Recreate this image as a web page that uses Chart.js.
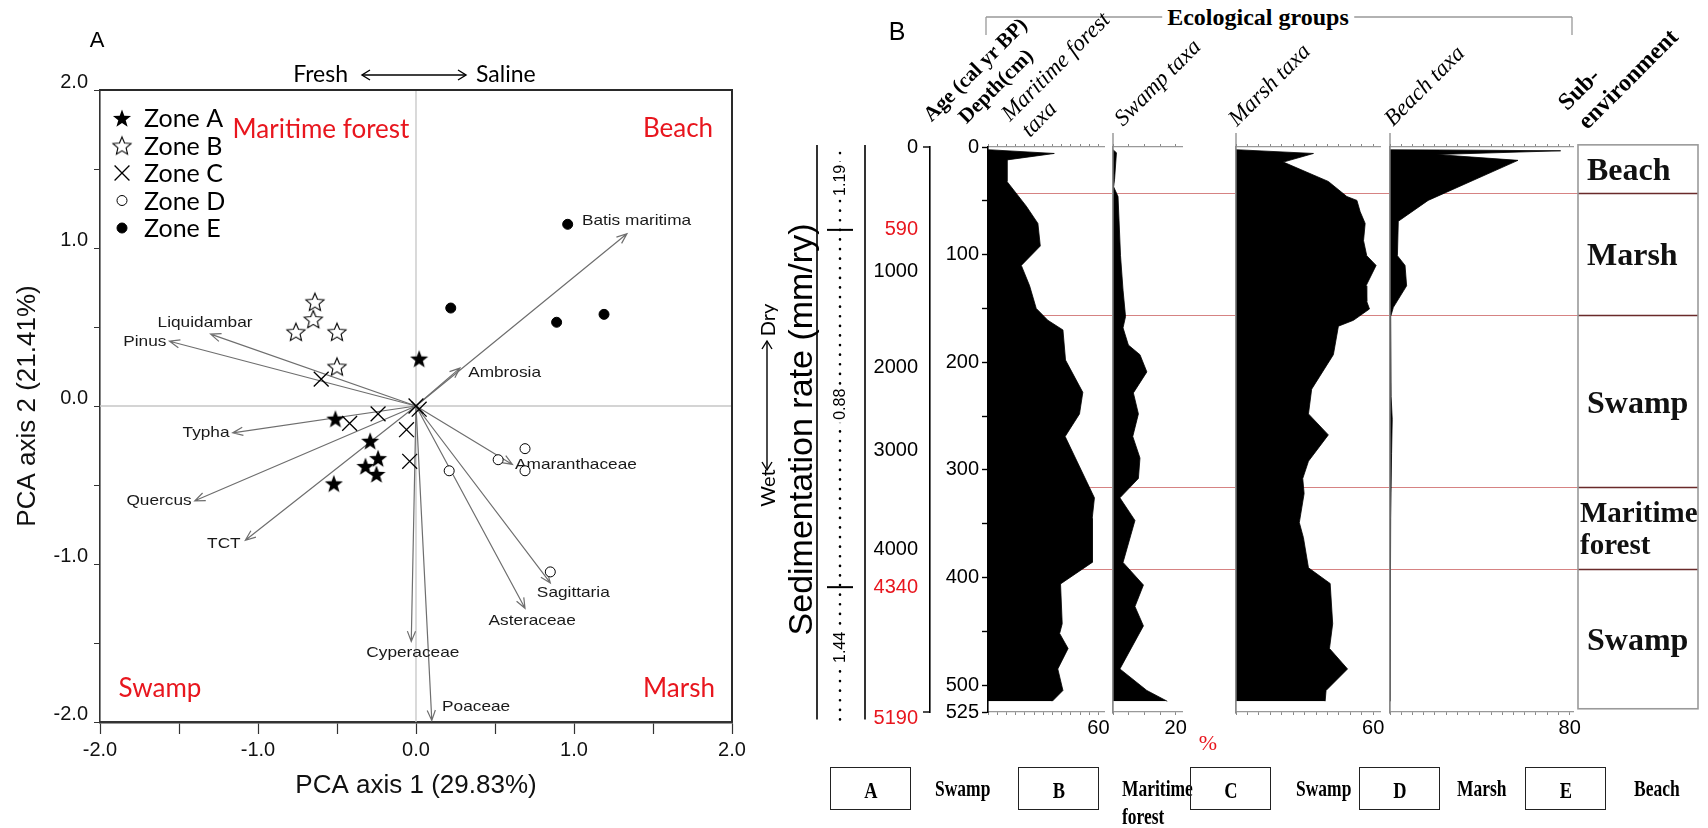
<!DOCTYPE html>
<html><head><meta charset="utf-8">
<script src="https://cdn.jsdelivr.net/npm/chart.js@4.4.1/dist/chart.umd.min.js"></script>
<style>
html,body{margin:0;padding:0;background:#fff;}
#stage{position:relative;width:1708px;height:828px;overflow:hidden;background:#fff;}
#stage canvas{position:absolute;}
.t{position:absolute;white-space:pre;line-height:1;transform-origin:0 0;}
.box{position:absolute;border:1.6px solid #222;box-sizing:border-box;}
</style></head><body>
<div id="stage">
<canvas id="cZones"></canvas>
<canvas id="cA"></canvas>
<canvas id="cMar"></canvas>
<canvas id="cSwa"></canvas>
<canvas id="cMarsh"></canvas>
<canvas id="cBeach"></canvas>
<svg id="deco" width="1708" height="828" style="position:absolute;left:0;top:0;pointer-events:none"></svg>
</div>
<script>
// ================= DATA =================
// ---- Panel A : PCA biplot ----
const zoneLabels = ['Zone A','Zone B','Zone C','Zone D','Zone E'];
const zoneA = [[0.02,0.30],[-0.51,-0.08],[-0.29,-0.22],[-0.24,-0.33],[-0.32,-0.38],[-0.25,-0.43],[-0.52,-0.49]];
const zoneB = [[-0.64,0.66],[-0.65,0.55],[-0.76,0.47],[-0.50,0.47],[-0.50,0.25]];
const zoneC = [[-0.60,0.17],[-0.42,-0.11],[-0.24,-0.05],[-0.06,-0.15],[-0.04,-0.35],[0.00,0.00],[0.02,-0.02]];
const zoneD = [[0.52,-0.34],[0.69,-0.27],[0.69,-0.41],[0.21,-0.41],[0.85,-1.05]];
const zoneE = [[0.96,1.15],[0.22,0.62],[0.89,0.53],[1.19,0.58]];

const taxa      = ['Batis maritima','Ambrosia','Liquidambar','Pinus','Typha','Quercus','TCT','Amaranthaceae','Sagittaria','Asteraceae','Cyperaceae','Poaceae'];
const taxaAxis1 = [1.335, 0.278, -1.30, -1.56, -1.16, -1.40, -1.08, 0.61, 0.85, 0.69, -0.03, 0.10];
const taxaAxis2 = [1.09, 0.24, 0.455, 0.41, -0.17, -0.60, -0.85, -0.37, -1.12, -1.28, -1.49, -1.99];
const taxaLabelAxis1 = [1.05, 0.33, -1.335, -1.58, -1.18, -1.42, -1.11, 0.627, 0.765, 0.735, -0.02, 0.165];
const taxaLabelAxis2 = [1.17, 0.21, 0.525, 0.405, -0.17, -0.60, -0.87, -0.37, -1.18, -1.36, -1.565, -1.905];
const taxaLabelSide  = ['left','left','center','right','right','right','right','left','left','center','center','left'];

// ---- Panel B : pollen diagram ----
const depthTicks = [0,50,100,150,200,250,300,350,400,450,500,525];
const ageLabels  = ['0','590','1000','2000','3000','4000','4340','5190'];
const ageDepths  = [0, 77, 116, 205, 282, 374, 409, 531];
const datedAges  = ['590','4340','5190'];
const sedRates       = ['1.19','0.88','1.44'];
const sedLabelDepths = [31, 239, 465];
const sedBreakAges   = ['590','4340'];

const maritimeDepth = [2.5,6,12,32,55,71,92,110,129,150,161,170,198,228,248,269,326,345,386,406,443,452,466,485,505,515];
const maritimeVal   = [0,36,10.3,10.3,20.8,27.1,28.4,18.1,22.6,26.2,32.5,40.7,42.1,51.5,49.7,41.9,57.8,56.6,56.6,39.4,40.3,38.9,43.5,37.9,40.7,34.9];

const swampDepth = [2.5,5.3,30,37,46,101,133,157.6,168,184,193,209,228.5,248,269,289,308,326,347,386,407,427,445,485,505,515];
const swampVal   = [0,1.1,0.5,0.2,1.6,2.4,3.2,4.0,3.2,4.9,8.6,10.8,6.5,8.1,6.3,8.6,8.1,2.2,7.0,3.2,9.7,7.0,9.7,2.2,10.8,17.3];

const marshDepth = [2.5,6,14,32,46,49.6,60,71,87,101,110,129,143.5,150.5,161,166.5,193,225,248,267.5,292,308,322,349,363,391,405.6,443,466,485,505,515];
const marshVal   = [0,33.9,20.7,40.4,48.5,52.9,54.3,56.5,55.8,57.2,61.3,56.9,57.2,58.4,51.4,44.8,42.6,33.1,31.7,40.4,31.7,29.2,29.8,27.7,29.5,31.7,41.2,42.3,40.9,48.8,39.4,39.0];

const beachDepth = [2.5,3.5,7,12.4,49.6,69,101,110,129,149,157.6,232,253,285,345,374,515];
const beachVal   = [0,76,20.7,57,17,3.7,3.3,6.7,7.4,1.5,0.3,0.5,1.0,0.7,0.3,0,0];

const subEnvNames  = ['Beach','Marsh','Swamp','Maritime\nforest','Swamp'];
const subEnvBounds = [-2, 42.6, 156.5, 316, 392, 522];

const legendCodes = ['A','B','C','D','E'];
const legendEnvs  = ['Swamp','Maritime\nforest','Swamp','Marsh','Beach'];

// ================= HELPERS =================
const FS = '"Liberation Sans", Arial, sans-serif';
const FSERIF = '"Liberation Serif", "Times New Roman", serif';
const FCAL = 'Lato, "Liberation Sans", sans-serif';
const RED = '#e8161e';
const stage = document.getElementById('stage');
const svg = document.getElementById('deco');

function place(id, left, top, w, h){
  const c = document.getElementById(id);
  c.width = w; c.height = h;
  c.style.left = left+'px'; c.style.top = top+'px';
  c.style.width = w+'px'; c.style.height = h+'px';
  return c;
}
function txt(s, x, y, o){
  o = o || {};
  const d = document.createElement('div');
  d.className = 't';
  d.textContent = s;
  d.style.left = x+'px'; d.style.top = y+'px';
  d.style.font = (o.style||'normal')+' '+(o.weight||'normal')+' '+(o.size||16)+'px '+(o.family||FS);
  d.style.color = o.color || '#000';
  if (o.lh) d.style.lineHeight = o.lh;
  if (o.bg) { d.style.background = o.bg; d.style.padding = '0 5px'; }
  const ax = o.align==='center' ? -50 : (o.align==='right' ? -100 : 0);
  d.style.transform = 'rotate('+(o.rot||0)+'deg) scaleX('+(o.sx||1)+') translate('+ax+'%,-50%)';
  stage.appendChild(d);
  return d;
}
function sline(x1,y1,x2,y2,color,w){
  const l = document.createElementNS('http://www.w3.org/2000/svg','line');
  l.setAttribute('x1',x1); l.setAttribute('y1',y1); l.setAttribute('x2',x2); l.setAttribute('y2',y2);
  l.setAttribute('stroke',color||'#000'); l.setAttribute('stroke-width',w||1);
  svg.appendChild(l);
}
function spoly(pts,color,w){
  const p = document.createElementNS('http://www.w3.org/2000/svg','polyline');
  p.setAttribute('points',pts.map(q=>q.join(',')).join(' '));
  p.setAttribute('fill','none'); p.setAttribute('stroke',color||'#000'); p.setAttribute('stroke-width',w||1);
  svg.appendChild(p);
}
function dblArrowH(x1,x2,y){ sline(x1,y,x2,y,'#000',1.4); spoly([[x1+8,y-5],[x1,y],[x1+8,y+5]],'#000',1.4); spoly([[x2-8,y-5],[x2,y],[x2-8,y+5]],'#000',1.4); }
function dblArrowV(x,y1,y2){ sline(x,y1,x,y2,'#000',1.4); spoly([[x-5,y1+8],[x,y1],[x+5,y1+8]],'#000',1.4); spoly([[x-5,y2-8],[x,y2],[x+5,y2-8]],'#000',1.4); }

function makeStar(filled){
  const s = 22, c = document.createElement('canvas'); c.width = s; c.height = s;
  const g = c.getContext('2d'); const R = 9.5, r = filled ? 3.9 : 4.3;
  g.beginPath();
  for (let i=0;i<10;i++){ const a = -Math.PI/2 + i*Math.PI/5; const rr = i%2 ? r : R; g.lineTo(s/2+rr*Math.cos(a), s/2+1+rr*Math.sin(a)); }
  g.closePath();
  if (filled){ g.fillStyle='#000'; g.fill(); }
  else { g.fillStyle='#fff'; g.fill(); g.lineWidth=1.1; g.strokeStyle='#000'; g.stroke(); }
  return c;
}
const starFilled = makeStar(true), starOpen = makeStar(false);
const toPts = arr => arr.map(p => ({x:p[0], y:p[1]}));
const isInt = v => Math.abs(v - Math.round(v)) < 1e-9;

function drawMarker(ctx, ds, x, y){
  const st = ds.pointStyle;
  if (typeof st === 'object'){ ctx.drawImage(st, x - st.width/2, y - st.height/2); return; }
  ctx.save();
  ctx.lineWidth = ds.borderWidth || 1; ctx.strokeStyle = ds.borderColor || '#000'; ctx.fillStyle = ds.backgroundColor || '#000';
  if (st === 'crossRot'){ const r = ds.pointRadius*0.707; ctx.beginPath(); ctx.moveTo(x-r,y-r); ctx.lineTo(x+r,y+r); ctx.moveTo(x+r,y-r); ctx.lineTo(x-r,y+r); ctx.stroke(); }
  else { ctx.beginPath(); ctx.arc(x,y,ds.pointRadius,0,Math.PI*2); ctx.fill(); ctx.stroke(); }
  ctx.restore();
}
function arrow(ctx,x0,y0,x1,y1,h){
  const ang = Math.atan2(y1-y0, x1-x0), s = 0.38;
  ctx.beginPath(); ctx.moveTo(x0,y0); ctx.lineTo(x1,y1);
  ctx.moveTo(x1-h*Math.cos(ang-s), y1-h*Math.sin(ang-s)); ctx.lineTo(x1,y1); ctx.lineTo(x1-h*Math.cos(ang+s), y1-h*Math.sin(ang+s));
  ctx.stroke();
}

// ================= PANEL A =================
const panelAPlugin = {
  id: 'panelA',
  beforeDatasetsDraw(chart){
    const {ctx, chartArea:a, scales:{x, y}} = chart;
    ctx.save();
    const x0 = x.getPixelForValue(0), y0 = y.getPixelForValue(0);
    ctx.strokeStyle = '#c6c6c6'; ctx.lineWidth = 1.3;
    ctx.beginPath(); ctx.moveTo(a.left,y0); ctx.lineTo(a.right,y0); ctx.moveTo(x0,a.top); ctx.lineTo(x0,a.bottom); ctx.stroke();
    ctx.strokeStyle = '#6e6e6e'; ctx.lineWidth = 1.2;
    taxa.forEach((t,i) => arrow(ctx, x0, y0, x.getPixelForValue(taxaAxis1[i]), y.getPixelForValue(taxaAxis2[i]), 11));
    ctx.fillStyle = '#1a1a1a'; ctx.font = '15px '+FS; ctx.textBaseline = 'middle';
    taxa.forEach((t,i) => {
      ctx.save();
      ctx.translate(x.getPixelForValue(taxaLabelAxis1[i]), y.getPixelForValue(taxaLabelAxis2[i]));
      ctx.scale(1.15,1); ctx.textAlign = taxaLabelSide[i]; ctx.fillText(t,0,0);
      ctx.restore();
    });
    ctx.restore();
  },
  afterDraw(chart){
    const {ctx, chartArea:a} = chart;
    ctx.save();
    ctx.strokeStyle = '#2a2a2a'; ctx.lineWidth = 2;
    ctx.beginPath(); ctx.moveTo(a.left,a.top); ctx.lineTo(a.right,a.top); ctx.lineTo(a.right,a.bottom); ctx.stroke();
    ctx.font = '25px '+FCAL; ctx.textBaseline = 'middle'; ctx.textAlign = 'left';
    chart.data.datasets.forEach((ds,i) => {
      const yy = a.top + 28 + i*27.5;
      drawMarker(ctx, ds, a.left + 22, yy);
      ctx.fillStyle = '#000';
      ctx.fillText(ds.label, a.left + 44, yy + 1);
    });
    ctx.restore();
  }
};

new Chart(place('cA', 0, 0, 800, 828), {
  type: 'scatter',
  data: { datasets: [
    {label: zoneLabels[0], data: toPts(zoneA), pointStyle: starFilled, pointRadius: 9},
    {label: zoneLabels[1], data: toPts(zoneB), pointStyle: starOpen, pointRadius: 9},
    {label: zoneLabels[2], data: toPts(zoneC), pointStyle: 'crossRot', pointRadius: 10.5, borderColor: '#000', borderWidth: 1.3, backgroundColor: '#000'},
    {label: zoneLabels[3], data: toPts(zoneD), pointStyle: 'circle', pointRadius: 5, borderColor: '#000', borderWidth: 1, backgroundColor: '#fff'},
    {label: zoneLabels[4], data: toPts(zoneE), pointStyle: 'circle', pointRadius: 5, borderColor: '#000', borderWidth: 1, backgroundColor: '#000'}
  ]},
  options: {
    responsive: false, animation: false, devicePixelRatio: 1,
    layout: {padding: {left: 0, top: 90, right: 68, bottom: 0}},
    plugins: {legend: {display: false}, tooltip: {enabled: false}},
    scales: {
      x: {type: 'linear', position: 'bottom', min: -2, max: 2,
        ticks: {stepSize: 0.5, autoSkip: false, maxRotation: 0, padding: 4, color: '#111', font: {family: FS, size: 20},
                callback: v => isInt(v) ? v.toFixed(1) : ''},
        grid: {drawOnChartArea: false, tickLength: 12, color: '#333', tickWidth: 1.2},
        border: {color: '#333', width: 2.5},
        title: {display: true, text: 'PCA axis 1 (29.83%)', color: '#111', font: {family: FS, size: 26}, padding: {top: 0, bottom: 27}},
        afterFit: s => { s.height = 106; }},
      y: {type: 'linear', position: 'left', min: -2, max: 2,
        ticks: {stepSize: 0.5, autoSkip: false, padding: 6, labelOffset: -8, color: '#111', font: {family: FS, size: 20},
                callback: v => isInt(v) ? v.toFixed(1) : ''},
        grid: {drawOnChartArea: false, tickLength: 6, color: '#333'},
        border: {color: '#333', width: 1.6},
        title: {display: true, text: 'PCA axis 2 (21.41%)', color: '#111', font: {family: FS, size: 26}, padding: {top: 12, bottom: 0}},
        afterFit: s => { s.width = 100; }}
    }
  },
  plugins: [panelAPlugin]
});

// ================= PANEL B =================
const B_TOP = 100, B_H = 660, AREA_T = 147, AREA_B = 712;

const zonePlugin = {
  id: 'zones',
  afterDraw(chart){
    const {ctx, chartArea:a, scales:{y}} = chart;
    const boxL = 1578 - 980;
    ctx.save();
    for (let i=1;i<subEnvBounds.length-1;i++){
      const py = Math.round(y.getPixelForValue(subEnvBounds[i])) + 0.5;
      ctx.strokeStyle = 'rgba(200,90,90,0.75)'; ctx.lineWidth = 1;
      ctx.beginPath(); ctx.moveTo(a.left,py); ctx.lineTo(boxL,py); ctx.stroke();
      ctx.strokeStyle = '#6a2a2a'; ctx.lineWidth = 1.6;
      ctx.beginPath(); ctx.moveTo(boxL,py); ctx.lineTo(a.right,py); ctx.stroke();
    }
    const yt = y.getPixelForValue(subEnvBounds[0]), yb = y.getPixelForValue(subEnvBounds[subEnvBounds.length-1]);
    ctx.strokeStyle = '#9a9a9a'; ctx.lineWidth = 1.6;
    ctx.strokeRect(boxL, yt, a.right - boxL, yb - yt);
    ctx.fillStyle = '#111'; ctx.textBaseline = 'middle'; ctx.textAlign = 'left';
    subEnvNames.forEach((n,i) => {
      const mid = y.getPixelForValue((subEnvBounds[i] + subEnvBounds[i+1]) / 2);
      const lines = n.split('\n');
      ctx.font = 'bold ' + (lines.length > 1 ? 29 : 32) + 'px ' + FSERIF;
      lines.forEach((ln,j) => {
        ctx.fillText(ln, boxL + (lines.length > 1 ? 2 : 9), mid + 3 + (j - (lines.length-1)/2) * 32);
      });
    });
    ctx.restore();
  }
};
new Chart(place('cZones', 980, B_TOP, 728, B_H), {
  type: 'scatter', data: {datasets: []},
  options: {responsive: false, animation: false, devicePixelRatio: 1,
    layout: {padding: {left: 8, right: 10, top: AREA_T - B_TOP, bottom: B_TOP + B_H - AREA_B}},
    plugins: {legend: {display: false}, tooltip: {enabled: false}},
    scales: {x: {display: false, min: 0, max: 1}, y: {display: false, reverse: true, min: 0, max: 525}}},
  plugins: [zonePlugin]
});

const sedPlugin = {
  id: 'sed',
  afterDraw(chart){
    const {ctx, scales:{y}} = chart; const L = 770;
    const yTop = y.getPixelForValue(0), yBot = y.getPixelForValue(532);
    ctx.save();
    ctx.strokeStyle = '#000'; ctx.lineWidth = 1.6;
    ctx.beginPath(); ctx.moveTo(817-L, yTop-2); ctx.lineTo(817-L, yBot); ctx.moveTo(865-L, yTop-2); ctx.lineTo(865-L, yBot); ctx.stroke();
    ctx.lineWidth = 1.4;
    [0, 525].forEach(d => { const py = y.getPixelForValue(d); ctx.beginPath(); ctx.moveTo(923-L, py); ctx.lineTo(930-L, py); ctx.stroke(); });
    ctx.setLineDash([0.1, 9.5]); ctx.lineCap = 'round'; ctx.lineWidth = 2.6;
    ctx.beginPath(); ctx.moveTo(840-L, yTop+6); ctx.lineTo(840-L, yBot); ctx.stroke();
    ctx.setLineDash([]); ctx.lineCap = 'butt'; ctx.lineWidth = 2;
    sedBreakAges.forEach(a => {
      const py = y.getPixelForValue(ageDepths[ageLabels.indexOf(a)]);
      ctx.beginPath(); ctx.moveTo(827-L, py); ctx.lineTo(853-L, py); ctx.stroke();
    });
    ctx.font = '16px ' + FS; ctx.textAlign = 'center'; ctx.textBaseline = 'middle';
    sedRates.forEach((r,i) => {
      ctx.save(); ctx.translate(840-L, y.getPixelForValue(sedLabelDepths[i])); ctx.rotate(-Math.PI/2);
      const w = ctx.measureText(r).width;
      ctx.fillStyle = '#fff'; ctx.fillRect(-w/2-3, -8, w+6, 16);
      ctx.fillStyle = '#000'; ctx.fillText(r, 0, 1);
      ctx.restore();
    });
    ctx.save();
    ctx.translate(803-L, (y.getPixelForValue(0) + y.getPixelForValue(525)) / 2); ctx.rotate(-Math.PI/2);
    ctx.font = '34px ' + FS; ctx.fillStyle = '#000'; ctx.fillText('Sedimentation rate (mm/ry)', 0, 0);
    ctx.restore();
    ctx.restore();
  }
};
const leftLinePlugin = {
  id: 'leftLine',
  afterDraw(chart){
    const {ctx, chartArea:a} = chart;
    ctx.save(); ctx.strokeStyle = '#8a8a8a'; ctx.lineWidth = 1.3;
    ctx.beginPath(); ctx.moveTo(a.left, a.top - 14); ctx.lineTo(a.left, a.bottom + 2); ctx.stroke();
    ctx.restore();
  }
};

function taxonChart(id, cLeft, cWidth, areaL, areaR, depths, vals, xmax, labelVal, withDepth){
  const axesW = withDepth ? 58 + 70 : 0;
  const xTicks = s => { s.ticks = []; for (let v = 0; v <= labelVal; v += 5) s.ticks.push({value: v}); };
  const scales = {
    x: {type: 'linear', position: 'top', min: 0, max: xmax, afterBuildTicks: xTicks,
        ticks: {display: false}, grid: {drawOnChartArea: false, tickLength: 3, color: '#888'},
        border: {color: '#999', width: 1.2}, afterFit: s => { s.height = 8; }},
    x2: {type: 'linear', position: 'bottom', min: 0, max: xmax, afterBuildTicks: xTicks,
        ticks: {autoSkip: false, maxRotation: 0, minRotation: 0, padding: 1, color: '#000', font: {family: FS, size: 20},
                callback: v => v === labelVal ? String(v) : ''},
        grid: {drawOnChartArea: false, tickLength: 3, color: '#888'},
        border: {color: '#999', width: 1.2}, afterFit: s => { s.height = 30; }}
  };
  if (withDepth){
    scales.y = {type: 'linear', position: 'left', reverse: true, min: 0, max: 525, weight: 0,
      afterBuildTicks: s => { s.ticks = depthTicks.map(v => ({value: v})); },
      ticks: {autoSkip: false, padding: 3, color: '#000', font: {family: FS, size: 20},
              callback: v => (v % 100 === 0 || v === 525) ? String(v) : ''},
      grid: {drawOnChartArea: false, tickLength: 6, color: '#000', tickWidth: 1.4},
      border: {color: '#000', width: 1.6}, afterFit: s => { s.width = 58; }};
    scales.age = {type: 'linear', position: 'left', reverse: true, min: 0, max: 525, weight: 1,
      afterBuildTicks: s => { s.ticks = ageDepths.map(v => ({value: v})); },
      ticks: {autoSkip: false, padding: 12, font: {family: FS, size: 20},
              color: c => datedAges.includes(ageLabels[c.index]) ? RED : '#000',
              callback: (v, i) => ageLabels[i]},
      grid: {drawOnChartArea: false, drawTicks: false},
      border: {color: '#000', width: 1.6}, afterFit: s => { s.width = 70; }};
  } else {
    scales.y = {type: 'linear', position: 'left', reverse: true, min: 0, max: 525,
      ticks: {display: false}, grid: {drawOnChartArea: false, drawTicks: false},
      border: {color: '#8a8a8a', width: 1.3}, afterFit: s => { s.width = 0; }};
  }
  return new Chart(place(id, cLeft, B_TOP, cWidth, B_H), {
    type: 'line',
    data: {datasets: [{data: depths.map((d,i) => ({x: vals[i], y: d})), xAxisID: 'x', yAxisID: 'y',
      borderColor: '#000', borderWidth: 0.8, backgroundColor: '#000', fill: 'origin', pointRadius: 0, tension: 0}]},
    options: {indexAxis: 'y', responsive: false, animation: false, devicePixelRatio: 1,
      layout: {padding: {left: areaL - cLeft - axesW, right: cLeft + cWidth - areaR, top: AREA_T - B_TOP - 8, bottom: B_TOP + B_H - AREA_B - 30}},
      plugins: {legend: {display: false}, tooltip: {enabled: false}},
      scales: scales},
    plugins: withDepth ? [sedPlugin] : [leftLinePlugin]
  });
}
taxonChart('cMar',   770, 355, 988, 1104, maritimeDepth, maritimeVal, 63, 60, true);
taxonChart('cSwa',  1103, 100, 1113, 1182, swampDepth, swampVal, 22, 20, false);
taxonChart('cMarsh',1224, 180, 1236, 1380, marshDepth, marshVal, 63, 60, false);
taxonChart('cBeach',1380, 212, 1390, 1573, beachDepth, beachVal, 81.5, 80, false);

// ================= STATIC ANNOTATIONS =================
txt('A', 97, 40, {size: 22, align: 'center'});
txt('Fresh', 348, 73, {family: FCAL, size: 23, align: 'right'});
txt('Saline', 476, 73, {family: FCAL, size: 23});
dblArrowH(362, 466, 75);
txt('Maritime forest', 321, 128, {family: FCAL, size: 26, color: RED, align: 'center'});
txt('Beach', 678, 127, {family: FCAL, size: 26, color: RED, align: 'center'});
txt('Swamp', 160, 687, {family: FCAL, size: 26, color: RED, align: 'center'});
txt('Marsh', 679, 687, {family: FCAL, size: 26, color: RED, align: 'center'});
txt('Dry', 767, 320, {family: FCAL, size: 20, align: 'center', rot: -90});
txt('Wet', 767, 488, {family: FCAL, size: 20, align: 'center', rot: -90});
dblArrowV(767, 341, 470);

txt('B', 897, 31, {size: 25, align: 'center'});
sline(986, 17, 1572, 17, '#999', 1.3);
sline(986, 17, 986, 35, '#999', 1.3);
sline(1572, 17, 1572, 35, '#999', 1.3);
txt('Ecological groups', 1258, 17, {family: FSERIF, weight: 'bold', size: 24, align: 'center', bg: '#fff'});
txt('Age (cal yr BP)', 927, 118, {family: FSERIF, weight: 'bold', size: 21, rot: -45});
txt('Depth(cm)', 962, 120, {family: FSERIF, weight: 'bold', size: 21, rot: -45});
txt('Maritime forest', 1005, 117, {family: FSERIF, style: 'italic', size: 23, rot: -45});
txt('taxa', 1025, 133, {family: FSERIF, style: 'italic', size: 23, rot: -45});
txt('Swamp taxa', 1118, 122, {family: FSERIF, style: 'italic', size: 23, rot: -45});
txt('Marsh taxa', 1232, 122, {family: FSERIF, style: 'italic', size: 23, rot: -45});
txt('Beach taxa', 1388, 122, {family: FSERIF, style: 'italic', size: 23, rot: -45});
txt('Sub-', 1562, 106, {family: FSERIF, weight: 'bold', size: 24, rot: -45});
txt('environment', 1582, 125, {family: FSERIF, weight: 'bold', size: 24, rot: -45});
txt('%', 1208, 743, {family: FSERIF, size: 22, color: RED, align: 'center'});

// bottom zone legend (condensed bold serif)
const legBoxX  = [830, 1018, 1190, 1359, 1525];
const legTextX = [935, 1122, 1296, 1457, 1634];
legendCodes.forEach((c,i) => {
  const b = document.createElement('div'); b.className = 'box';
  b.style.left = legBoxX[i]+'px'; b.style.top = '767px'; b.style.width = '81px'; b.style.height = '43px';
  stage.appendChild(b);
  txt(c, legBoxX[i] + 40.5, 791, {family: FSERIF, weight: 'bold', size: 23, align: 'center', sx: 0.8});
  const lines = legendEnvs[i].split('\n');
  lines.forEach((ln,j) => txt(ln, legTextX[i], 789 + j*28, {family: FSERIF, weight: 'bold', size: 23, sx: 0.76}));
});
</script>
</body></html>
